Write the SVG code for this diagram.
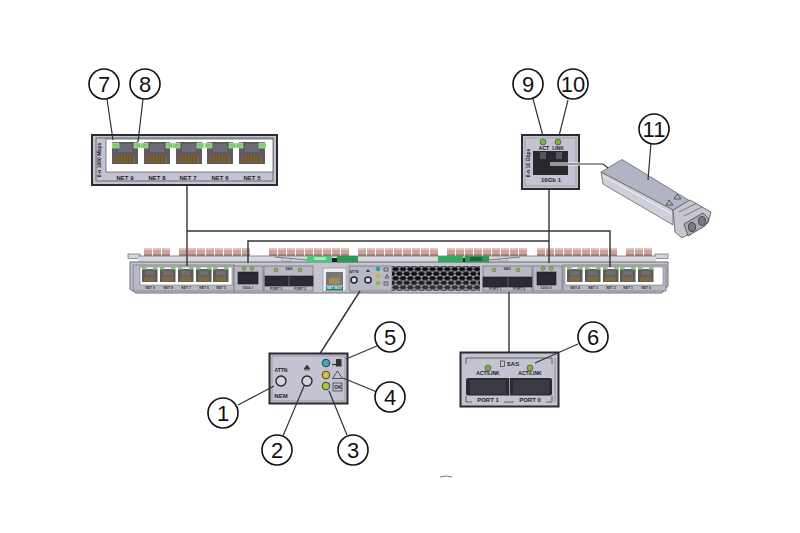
<svg xmlns="http://www.w3.org/2000/svg" xmlns:xlink="http://www.w3.org/1999/xlink" width="800" height="533" viewBox="0 0 800 533">
<style>
text{font-family:"Liberation Sans",Arial,sans-serif;fill:#222}
.num{font-size:22px;text-anchor:middle;fill:#111}
.call{fill:#fff;stroke:#111;stroke-width:1.6}
.lead{fill:none;stroke:#333;stroke-width:1.2}
.conn{fill:none;stroke:#333;stroke-width:1.4}
.lbl{font-size:6px;font-weight:bold;text-anchor:middle}
.tiny{font-size:3.4px;font-weight:bold;text-anchor:middle;fill:#333}
.panel{fill:#c3c3d2;stroke:#2b2b30;stroke-width:2}
.sec{fill:#b9b9c6;stroke:#77777f;stroke-width:.8}
.port{fill:#2a2a32;stroke:#18181c;stroke-width:.6}
</style>
<defs>
<pattern id="fin" patternUnits="userSpaceOnUse" width="9" height="9">
<rect x="0" y="0" width="8" height="8" fill="#cda397"/>
<rect x="0" y="0" width="8" height="2" fill="#e0c6bd"/>
<rect x="0" y="6.500" width="8" height="1.500" fill="#8d6a64"/>
</pattern>
<pattern id="hex" patternUnits="userSpaceOnUse" width="7.4" height="9.2">
<rect width="7.4" height="9.2" fill="#9a9aa2"/>
<polygon points="1.6,0.2 5.2,0.2 6.9,2.3 5.2,4.4 1.6,4.4 -.1,2.3" fill="#0e0e11"/>
<polygon points="5.300,4.800 8.900,4.800 10.600,6.900 8.900,9 5.300,9 3.600,6.900" fill="#0e0e11"/>
<polygon points="-2.100,4.800 1.500,4.800 3.200,6.900 1.500,9 -2.100,9 -3.800,6.900" fill="#0e0e11"/>
</pattern>
<linearGradient id="hexfade" x1="0" y1="0" x2="0" y2="1">
<stop offset="0.5" stop-color="#b0b0b8" stop-opacity="0"/>
<stop offset="1" stop-color="#b0b0b8" stop-opacity=".3"/>
</linearGradient>
<g id="rj">
<rect width="26" height="22" fill="#55555a"/>
<path d="M0 0h3v4h4v-4h12v4h4v-4h3v22h-26z" fill="#5c5c62"/>
<rect x="6" y="2" width="14" height="8" fill="#6c6c72"/>
<rect x="3" y="14" width="20" height="7" fill="#80663a"/>
<path d="M5 14v7M8 14v7M11 14v7M14 14v7M17 14v7M20 14v7" stroke="#5b4726" stroke-width=".8"/>
</g>
<g id="rjs">
<rect width="15.500" height="13" fill="#5b5b5e"/>
<rect x="3" y="1.500" width="9.500" height="5" fill="#6e6e72"/>
<rect x="2" y="7.500" width="11.500" height="5" fill="#82693e"/>
</g>
<rect id="ledg" width="7" height="5" fill="#7ecb6e" stroke="#c8eac0" stroke-width=".6"/>
<rect id="ledm" width="4.500" height="2.600" fill="#83c96f"/>
<circle id="leds" r="2" fill="#8fb04e" stroke="#5b6b36" stroke-width=".5"/>
</defs>

<rect width="800" height="533" fill="#fff"/>

<g id="chassis">
<g transform="translate(144,248)"><rect width="26" height="8" fill="url(#fin)"/></g>
<g transform="translate(179,248)"><rect width="71" height="8" fill="url(#fin)"/></g>
<g transform="translate(269,248)"><rect width="80" height="8" fill="url(#fin)"/></g>
<g transform="translate(358,248)"><rect width="80" height="8" fill="url(#fin)"/></g>
<g transform="translate(447,248)"><rect width="80" height="8" fill="url(#fin)"/></g>
<g transform="translate(537,248)"><rect width="80" height="8" fill="url(#fin)"/></g>
<g transform="translate(626,248)"><rect width="26" height="8" fill="url(#fin)"/></g>
<rect x="128" y="254" width="12" height="4.500" fill="#d6d6dc" stroke="#555" stroke-width=".6"/>
<rect x="655" y="254" width="13" height="4.500" fill="#d6d6dc" stroke="#555" stroke-width=".6"/>
<rect x="138" y="256" width="518" height="7" fill="#d8d8df"/>
<path d="M138 256H656" stroke="#8c8c96" stroke-width="1"/>
<path d="M130 262H668V286L662 293H136L130 289Z" fill="#c4c4cf" stroke="#6d6d76" stroke-width="1"/>
<path d="M275 257L307 260M489 260L520 257" stroke="#777" stroke-width="1"/>
<path d="M282 258v3h9v-3M498 258v3h9v-3" fill="none" stroke="#888" stroke-width=".6"/>
<rect x="307" y="256" width="25" height="6.500" fill="#4fc57f"/>
<rect x="314" y="257" width="12" height="3" fill="#a5e8bf"/>
<rect x="332" y="258" width="5" height="4" fill="#222"/>
<rect x="337" y="256" width="21" height="6.500" fill="#2d9a55"/>
<rect x="438" y="256" width="25" height="6.500" fill="#35a960"/>
<rect x="463" y="258" width="2" height="4" fill="#222"/>
<rect x="465" y="256" width="24" height="6.500" fill="#2d9a55"/>
<rect x="470" y="257" width="12" height="4" fill="#176538"/>
</g>

<g id="net-left">
<rect x="133" y="265" width="101" height="26" class="sec"/>
<rect x="140" y="267" width="92" height="18" fill="#fff" stroke="#666" stroke-width=".5"/>
<use xlink:href="#rjs" href="#rjs" x="142" y="269"/>
<use xlink:href="#rjs" href="#rjs" x="160" y="269"/>
<use xlink:href="#rjs" href="#rjs" x="178" y="269"/>
<use xlink:href="#rjs" href="#rjs" x="196" y="269"/>
<use xlink:href="#rjs" href="#rjs" x="213" y="269"/>
<use xlink:href="#ledm" href="#ledm" x="142" y="267"/><use xlink:href="#ledm" href="#ledm" x="153" y="267"/>
<use xlink:href="#ledm" href="#ledm" x="160" y="267"/><use xlink:href="#ledm" href="#ledm" x="171" y="267"/>
<use xlink:href="#ledm" href="#ledm" x="178" y="267"/><use xlink:href="#ledm" href="#ledm" x="189" y="267"/>
<use xlink:href="#ledm" href="#ledm" x="196" y="267"/><use xlink:href="#ledm" href="#ledm" x="207" y="267"/>
<use xlink:href="#ledm" href="#ledm" x="213" y="267"/><use xlink:href="#ledm" href="#ledm" x="224" y="267"/>
<text class="tiny" x="150" y="289">NET 9</text><text class="tiny" x="168" y="289">NET 8</text><text class="tiny" x="186" y="289">NET 7</text><text class="tiny" x="204" y="289">NET 6</text><text class="tiny" x="221" y="289">NET 5</text>
</g>

<g id="sfp-left">
<rect x="234" y="266" width="29" height="25" class="sec"/>
<rect x="238" y="272" width="20" height="12" class="port"/>
<use xlink:href="#leds" href="#leds" x="244" y="268.500"/><use xlink:href="#leds" href="#leds" x="252" y="268.500"/>
<text class="tiny" x="248" y="289">10Gb 1</text>
</g>

<g id="sas-left">
<rect x="264" y="266" width="49" height="25" class="sec"/>
<rect x="265" y="276" width="48" height="10" class="port"/>
<path d="M289 276v10" stroke="#777" stroke-width=".7"/>
<use xlink:href="#leds" href="#leds" x="276" y="270"/><use xlink:href="#leds" href="#leds" x="300" y="270"/>
<text class="tiny" x="289" y="270">SAS</text>
<text class="tiny" x="276" y="289.500">PORT 3</text><text class="tiny" x="300" y="289.500">PORT 2</text>
</g>

<g id="net-mgt">
<rect x="323" y="268" width="23" height="23" fill="#eeeef0" stroke="#777" stroke-width=".5"/>
<rect x="326" y="272" width="17" height="13" fill="#77777a"/>
<rect x="329" y="278" width="11" height="6" fill="#a58a52"/>
<rect x="326" y="285.500" width="17" height="5" fill="#197c74"/>
<text class="tiny" x="334.500" y="289.300" style="fill:#fff">NET MGT</text>
</g>

<g id="mini-led">
<rect x="349" y="266" width="43" height="25" class="sec"/>
<circle cx="354" cy="280" r="3" fill="#dfe0e6" stroke="#23233a" stroke-width="1.500"/>
<circle cx="368" cy="280" r="3" fill="#dfe0e6" stroke="#23233a" stroke-width="1.500"/>
<circle cx="378" cy="269" r="2.300" fill="#2b9da4"/>
<circle cx="378" cy="276" r="2.300" fill="#d3b03a"/>
<circle cx="378" cy="283" r="2.300" fill="#93b43c"/>
<path d="M384 268h4v3h-4zM385 278l2-3.500 2 3.500zM384 282h4v3h-4z" fill="none" stroke="#333" stroke-width=".7"/>
<path d="M366 272l2-3 2 3z" fill="#333"/>
<text class="tiny" x="354" y="273">ATTN</text>
</g>

<g id="vent">
<rect x="392" y="266" width="88" height="25" fill="url(#hex)"/>
<rect x="392" y="266" width="88" height="25" fill="url(#hexfade)"/>
</g>

<g id="sas-right">
<rect x="483" y="266" width="49" height="25" class="sec"/>
<rect x="483" y="277" width="49" height="10" class="port"/>
<path d="M508 277v10" stroke="#777" stroke-width=".7"/>
<use xlink:href="#leds" href="#leds" x="494" y="270"/><use xlink:href="#leds" href="#leds" x="518" y="270"/>
<text class="tiny" x="507" y="270">SAS</text>
<text class="tiny" x="495" y="290">PORT 1</text><text class="tiny" x="519" y="290">PORT 0</text>
</g>

<g id="sfp-right">
<rect x="533" y="266" width="29" height="25" class="sec"/>
<rect x="537" y="272" width="19" height="13" class="port"/>
<use xlink:href="#leds" href="#leds" x="543" y="268.500"/><use xlink:href="#leds" href="#leds" x="551" y="268.500"/>
<text class="tiny" x="546" y="289">10Gb 0</text>
</g>

<g id="net-right">
<rect x="563" y="265" width="103" height="26" class="sec"/>
<rect x="565" y="267" width="98" height="18" fill="#fff" stroke="#666" stroke-width=".5"/>
<use xlink:href="#rjs" href="#rjs" x="567" y="269"/>
<use xlink:href="#rjs" href="#rjs" x="585" y="269"/>
<use xlink:href="#rjs" href="#rjs" x="603" y="269"/>
<use xlink:href="#rjs" href="#rjs" x="620" y="269"/>
<use xlink:href="#rjs" href="#rjs" x="638" y="269"/>
<use xlink:href="#ledm" href="#ledm" x="567" y="267"/><use xlink:href="#ledm" href="#ledm" x="578" y="267"/>
<use xlink:href="#ledm" href="#ledm" x="585" y="267"/><use xlink:href="#ledm" href="#ledm" x="596" y="267"/>
<use xlink:href="#ledm" href="#ledm" x="603" y="267"/><use xlink:href="#ledm" href="#ledm" x="614" y="267"/>
<use xlink:href="#ledm" href="#ledm" x="620" y="267"/><use xlink:href="#ledm" href="#ledm" x="631" y="267"/>
<use xlink:href="#ledm" href="#ledm" x="638" y="267"/><use xlink:href="#ledm" href="#ledm" x="649" y="267"/>
<text class="tiny" x="575" y="289">NET 4</text><text class="tiny" x="593" y="289">NET 3</text><text class="tiny" x="611" y="289">NET 2</text><text class="tiny" x="628" y="289">NET 1</text><text class="tiny" x="646" y="289">NET 0</text>
</g>

<g id="connectors">
<path class="conn" d="M187 186V266"/>
<path class="conn" d="M187 231H610V267"/>
<path class="conn" d="M248 263V241H549"/>
<path class="conn" d="M549 190V263"/>
<path class="conn" d="M360 291L314 363"/>
<path class="conn" d="M509 292V352"/>
</g>

<g id="net-panel">
<rect x="92" y="135" width="185" height="50" class="panel"/>
<rect x="96" y="138" width="177" height="43" fill="none" stroke="#55555c" stroke-width=".8"/>
<rect x="106" y="139" width="167" height="33" fill="#fff" stroke="#555" stroke-width=".7"/>
<use xlink:href="#rj" href="#rj" x="112" y="142"/>
<use xlink:href="#rj" href="#rj" x="144" y="142"/>
<use xlink:href="#rj" href="#rj" x="176" y="142"/>
<use xlink:href="#rj" href="#rj" x="207" y="142"/>
<use xlink:href="#rj" href="#rj" x="239" y="142"/>
<use xlink:href="#ledg" href="#ledg" x="112" y="143"/><use xlink:href="#ledg" href="#ledg" x="134" y="143"/>
<use xlink:href="#ledg" href="#ledg" x="141" y="143"/><use xlink:href="#ledg" href="#ledg" x="166" y="143"/>
<use xlink:href="#ledg" href="#ledg" x="173" y="143"/><use xlink:href="#ledg" href="#ledg" x="197" y="143"/>
<use xlink:href="#ledg" href="#ledg" x="205" y="143"/><use xlink:href="#ledg" href="#ledg" x="229" y="143"/>
<use xlink:href="#ledg" href="#ledg" x="236" y="143"/><use xlink:href="#ledg" href="#ledg" x="259" y="143"/>
<text class="lbl" x="125" y="180">NET 9</text><text class="lbl" x="157" y="180">NET 8</text><text class="lbl" x="188" y="180">NET 7</text><text class="lbl" x="220" y="180">NET 6</text><text class="lbl" x="252" y="180">NET 5</text>
<text class="lbl" style="font-size:5px" transform="translate(100.500,160) rotate(-90)">0-n 1000 Mbps</text>
</g>

<g id="sfp-panel">
<rect x="522" y="135" width="57" height="54" class="panel"/>
<rect x="525" y="138" width="51" height="48" fill="none" stroke="#8a8a94" stroke-width=".6"/>
<rect x="533" y="151" width="35" height="24" fill="#28282e"/>
<rect x="540" y="152" width="6" height="7" fill="#55555c"/>
<rect x="556" y="152" width="6" height="7" fill="#55555c"/>
<circle cx="543" cy="142" r="3" fill="#7db33a" stroke="#3f5b2a" stroke-width=".7"/>
<circle cx="558" cy="142" r="3" fill="#7db33a" stroke="#3f5b2a" stroke-width=".7"/>
<text class="lbl" style="font-size:5px" x="544" y="149.500">ACT</text>
<text class="lbl" style="font-size:5px" x="558" y="149.500">LINK</text>
<text class="lbl" x="551" y="181.500">10Gb 1</text>
<text class="lbl" style="font-size:5px" transform="translate(530,163) rotate(-90)">0-n 10 Gbps</text>
</g>

<g id="transceiver">
<polygon points="601,172 622,159.500 690,201 673,210" fill="#b3b3c6" stroke="#666" stroke-width=".8"/>
<polygon points="601,172 673,210 673,225 603,184" fill="#cfcfdb" stroke="#666" stroke-width=".8"/>
<path d="M603 176L672 214" stroke="#f3f3f6" stroke-width="1"/>
<polygon points="673,210 690,200 711,212 708,223 682,238 675,232" fill="#c6c6d0" stroke="#555" stroke-width=".8"/>
<path d="M679 212L697 203M684 216L702 207" stroke="#666" stroke-width=".8" fill="none"/>
<polygon points="684,224 703,213 709,219 705,226 688,236" fill="#a9a9b6" stroke="#444" stroke-width=".8"/>
<ellipse cx="692" cy="227" rx="3.500" ry="4.500" fill="#7a7a84" stroke="#333" stroke-width=".8"/>
<ellipse cx="702" cy="221" rx="3.500" ry="4.500" fill="#7a7a84" stroke="#333" stroke-width=".8"/>
<polygon points="677,194 681,199 674,199" fill="none" stroke="#333" stroke-width=".7"/>
<polygon points="669,200 673,205 666,205" fill="none" stroke="#333" stroke-width=".7"/>
</g>
<path class="conn" d="M550 164H603L608 167" style="stroke:#fff;stroke-width:3"/>
<path class="lead" d="M550 164H603L608 168"/>

<g id="led-panel">
<rect x="269.500" y="353.500" width="78" height="50" class="panel"/>
<rect x="272" y="356" width="73" height="45" fill="none" stroke="#8a8a94" stroke-width=".7"/>
<circle cx="281" cy="381" r="5" fill="#d3d4dc" stroke="#222" stroke-width="1.300"/>
<circle cx="307" cy="381" r="5" fill="#d3d4dc" stroke="#222" stroke-width="1.300"/>
<circle cx="326" cy="363" r="3.800" fill="#33a9bd" stroke="#222" stroke-width=".8"/>
<circle cx="326" cy="375" r="3.800" fill="#e2bc3c" stroke="#222" stroke-width=".8"/>
<circle cx="326" cy="386" r="3.800" fill="#a5cc3a" stroke="#222" stroke-width=".8"/>
<text class="lbl" style="font-size:5px" x="281" y="372">ATTN</text>
<text class="lbl" x="281" y="398">NEM</text>
<text class="lbl" style="font-size:5px" x="338" y="389">OK</text>
<rect x="333" y="383" width="9" height="8" fill="none" stroke="#333" stroke-width=".7"/>
<polygon points="337.500,371 342.500,378.500 332.500,378.500" fill="none" stroke="#333" stroke-width=".8"/>
<rect x="336" y="359" width="5.500" height="7.500" fill="#333"/>
<path d="M332 364.500h4" stroke="#333" stroke-width="1.200"/>
<path d="M304 369l3-4 3 4zM304 370h6" fill="#333" stroke="#333" stroke-width=".6"/>
</g>

<g id="sas-panel">
<rect x="460.500" y="352.500" width="98" height="54" class="panel"/>
<path d="M466 358H552M466 358V364M552 358V364" fill="none" stroke="#333" stroke-width=".7"/>
<path d="M466 396V402H472M504 402H514M546 402H552V396" fill="none" stroke="#333" stroke-width=".7"/>
<path d="M555 358V402" stroke="#777" stroke-width=".7"/>
<rect x="466" y="378" width="86" height="17.500" rx="2" fill="#2a2a32"/>
<path d="M509.500 378V395" stroke="#99a" stroke-width="1"/>
<rect x="470" y="380" width="36" height="14" fill="#3a3a42"/>
<rect x="513" y="380" width="36" height="14" fill="#3a3a42"/>
<circle cx="488" cy="368" r="3" fill="#7db33a" stroke="#3f5b2a" stroke-width=".7"/>
<circle cx="530" cy="368" r="3" fill="#7db33a" stroke="#3f5b2a" stroke-width=".7"/>
<rect x="500.500" y="361" width="4" height="5.500" fill="none" stroke="#333" stroke-width=".7"/>
<text class="lbl" x="513" y="366">SAS</text>
<text class="lbl" style="font-size:5px" x="488" y="375">ACT/LINK</text>
<text class="lbl" style="font-size:5px" x="530" y="375">ACT/LINK</text>
<text class="lbl" x="488" y="401.500">PORT 1</text>
<text class="lbl" x="530" y="401.500">PORT 0</text>
</g>

<g id="leaders">
<path class="lead" d="M107 99L113 140"/>
<path class="lead" d="M143 99L138 142"/>
<path class="lead" d="M533 99L543 136"/>
<path class="lead" d="M568 100L559 136"/>
<path class="lead" d="M651 143L648 180"/>
<path class="lead" d="M238 405L274 386"/>
<path class="lead" d="M283 436L304 386"/>
<path class="lead" d="M347 435L329 391"/>
<path class="lead" d="M377 392L343 378"/>
<path class="lead" d="M377 346L346 359"/>
<path class="lead" d="M578 344L535 363"/>
</g>

<g id="callout-1"><circle class="call" cx="223" cy="413" r="15"/><text class="num" x="223" y="421">1</text></g>
<g id="callout-2"><circle class="call" cx="277" cy="450" r="15"/><text class="num" x="277" y="458">2</text></g>
<g id="callout-3"><circle class="call" cx="353" cy="450" r="15"/><text class="num" x="353" y="458">3</text></g>
<g id="callout-4"><circle class="call" cx="390" cy="397" r="15"/><text class="num" x="390" y="405">4</text></g>
<g id="callout-5"><circle class="call" cx="390" cy="337" r="15"/><text class="num" x="390" y="345">5</text></g>
<g id="callout-6"><circle class="call" cx="593" cy="337" r="15"/><text class="num" x="593" y="345">6</text></g>
<g id="callout-7"><circle class="call" cx="104" cy="84" r="15"/><text class="num" x="104" y="92">7</text></g>
<g id="callout-8"><circle class="call" cx="145" cy="84" r="15"/><text class="num" x="145" y="92">8</text></g>
<g id="callout-9"><circle class="call" cx="528" cy="84" r="15"/><text class="num" x="528" y="92">9</text></g>
<g id="callout-10"><circle class="call" cx="573" cy="84" r="15"/><text class="num" x="573" y="92">10</text></g>
<g id="callout-11"><circle class="call" cx="654" cy="129" r="15"/><text class="num" x="654" y="137">11</text></g>
<path d="M440 477Q446 475 452 477" fill="none" stroke="#777" stroke-width="1"/>
</svg>
